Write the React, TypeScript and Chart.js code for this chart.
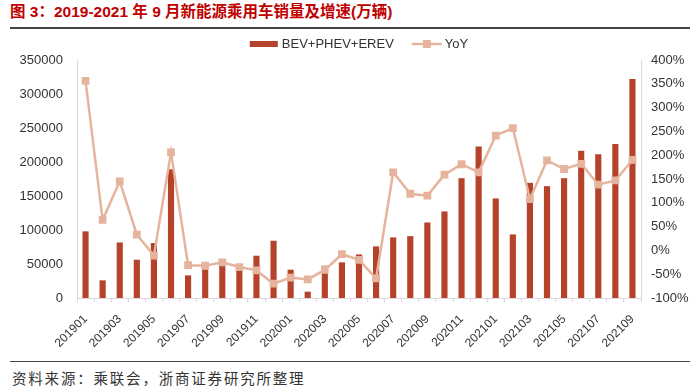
import React, { useEffect, useRef } from "react";
import { Chart, registerables } from "chart.js";

Chart.register(...registerables);

const months = [
  "201901", "201902", "201903", "201904", "201905", "201906", "201907", "201908", "201909", "201910", "201911", "201912",
  "202001", "202002", "202003", "202004", "202005", "202006", "202007", "202008", "202009", "202010", "202011", "202012",
  "202101", "202102", "202103", "202104", "202105", "202106", "202107", "202108", "202109",
];

const salesValues = [
  98000, 26000, 81700, 56300, 80800, 189400, 33300, 42000, 50000, 42600, 62200, 84200,
  41600, 9300, 47500, 52400, 64100, 75900, 89100, 91000, 111100, 127300, 176200, 222700,
  146400, 93500, 169400, 164500, 176200, 216400, 211500, 226600, 322000,
];

const yoyValues = [
  356, 64, 145, 33, -11, 206, -31, -32, -25, -35, -42, -70,
  -57, -61, -41, -8, -20, -59, 164, 119, 115, 159, 181, 164,
  241, 257, 108, 189, 171, 182, 138, 147, 190,
];

const leftTicks = [0, 50000, 100000, 150000, 200000, 250000, 300000, 350000];
const rightTicks = [-100, -50, 0, 50, 100, 150, 200, 250, 300, 350, 400];

const barLabel = "BEV+PHEV+EREV";
const lineLabel = "YoY";
const titleText = "图 3：2019-2021 年 9 月新能源乘用车销量及增速(万辆)";
const sourceText = "资料来源：乘联会，浙商证券研究所整理";

const BAR_COLOR = "#B5432B";
const LINE_COLOR = "#E6B49D";
const TEXT_COLOR = "#333333";
const AXIS_COLOR = "#D9D9D9";
const FONT = "'Liberation Sans', Arial, sans-serif";

const legendPlugin = {
  id: "customLegend",
  afterDraw(chart: any) {
    const { ctx, chartArea } = chart;
    ctx.save();
    ctx.font = `13px ${FONT}`;
    const w1 = ctx.measureText(barLabel).width;
    const w2 = ctx.measureText(lineLabel).width;
    const total = 28 + 4 + w1 + 18 + 30 + 3 + w2;
    let x = (chartArea.left + chartArea.right) / 2 - total / 2;
    const y = chartArea.top - 16;
    ctx.fillStyle = BAR_COLOR;
    ctx.fillRect(x, y - 3, 28, 6);
    x += 32;
    ctx.fillStyle = TEXT_COLOR;
    ctx.textBaseline = "middle";
    ctx.textAlign = "left";
    ctx.fillText(barLabel, x, y);
    x += w1 + 18;
    ctx.strokeStyle = LINE_COLOR;
    ctx.lineWidth = 2.5;
    ctx.beginPath();
    ctx.moveTo(x, y);
    ctx.lineTo(x + 30, y);
    ctx.stroke();
    ctx.fillStyle = LINE_COLOR;
    ctx.fillRect(x + 15 - 4, y - 4, 8, 8);
    x += 33;
    ctx.fillStyle = TEXT_COLOR;
    ctx.fillText(lineLabel, x, y);
    ctx.restore();
  },
};

export default function App() {
  const canvasRef = useRef<HTMLCanvasElement | null>(null);

  useEffect(() => {
    if (!canvasRef.current) return;
    const chart = new Chart(canvasRef.current, {
      type: "bar",
      data: {
        labels: months,
        datasets: [
          {
            type: "line",
            label: lineLabel,
            data: yoyValues,
            yAxisID: "y1",
            borderColor: LINE_COLOR,
            backgroundColor: LINE_COLOR,
            borderWidth: 2.5,
            pointStyle: "rect",
            pointRadius: 5.5,
            pointBackgroundColor: LINE_COLOR,
            pointBorderColor: LINE_COLOR,
            pointBorderWidth: 0,
            tension: 0,
            order: 0,
          } as any,
          {
            type: "bar",
            label: barLabel,
            data: salesValues,
            yAxisID: "y",
            backgroundColor: BAR_COLOR,
            barPercentage: 0.36,
            categoryPercentage: 1,
            order: 1,
          } as any,
        ],
      },
      options: {
        animation: false,
        responsive: false,
        maintainAspectRatio: false,
        layout: { padding: { top: 30, left: 0, right: 0, bottom: 0 } },
        plugins: {
          legend: { display: false },
          tooltip: { enabled: false },
          title: { display: false },
        },
        scales: {
          x: {
            grid: { display: true, drawOnChartArea: false, drawTicks: true, tickLength: 4, color: AXIS_COLOR, offset: true },
            border: { display: true, color: AXIS_COLOR, width: 1 },
            ticks: {
              autoSkip: false,
              maxRotation: 45,
              minRotation: 45,
              padding: 10,
              color: TEXT_COLOR,
              font: { family: FONT, size: 12 },
              callback: (_v: any, i: number) => (i % 2 === 0 ? months[i] : ""),
            },
            afterFit: (s: any) => {
              s.height = 62;
            },
          },
          y: {
            position: "left",
            min: 0,
            max: 350000,
            grid: { display: false, drawTicks: false },
            border: { display: true, color: AXIS_COLOR, width: 1 },
            afterBuildTicks: (s: any) => {
              s.ticks = leftTicks.map((v) => ({ value: v }));
            },
            ticks: {
              padding: 14,
              color: TEXT_COLOR,
              font: { family: FONT, size: 13 },
              callback: (v: any) => String(v),
            },
            afterFit: (s: any) => {
              s.width = 77;
            },
          },
          y1: {
            position: "right",
            min: -100,
            max: 400,
            grid: { display: false, drawTicks: false },
            border: { display: true, color: AXIS_COLOR, width: 1 },
            afterBuildTicks: (s: any) => {
              s.ticks = rightTicks.map((v) => ({ value: v }));
            },
            ticks: {
              padding: 10,
              color: TEXT_COLOR,
              font: { family: FONT, size: 13 },
              callback: (v: any) => `${v}%`,
            },
            afterFit: (s: any) => {
              s.width = 59;
            },
          },
        },
      },
      plugins: [legendPlugin],
    });
    return () => chart.destroy();
  }, []);

  return (
    <div style={{ position: "absolute", left: 0, top: 0, width: 700, height: 390, background: "#fff", overflow: "hidden" }}>
      <div
        style={{
          position: "absolute",
          left: 10,
          top: 2,
          fontFamily: "'Liberation Sans', 'Noto Sans CJK SC', sans-serif",
          fontWeight: "bold",
          fontSize: 15.5,
          color: "#C00000",
          whiteSpace: "nowrap",
          lineHeight: "20px",
        }}
      >
        {titleText}
      </div>
      <div style={{ position: "absolute", left: 10, right: 10, top: 27, height: 2, background: "#444" }} />
      <canvas ref={canvasRef} width={700} height={330} style={{ position: "absolute", left: 0, top: 30, width: 700, height: 330 }} />
      <div style={{ position: "absolute", left: 10, right: 10, top: 361, height: 1, background: "#444" }} />
      <div
        style={{
          position: "absolute",
          left: 12,
          top: 368,
          fontFamily: "'Noto Sans CJK SC', sans-serif",
          fontSize: 14.5,
          letterSpacing: 1.8,
          color: "#333",
          whiteSpace: "nowrap",
          lineHeight: "20px",
        }}
      >
        {sourceText}
      </div>
    </div>
  );
}
